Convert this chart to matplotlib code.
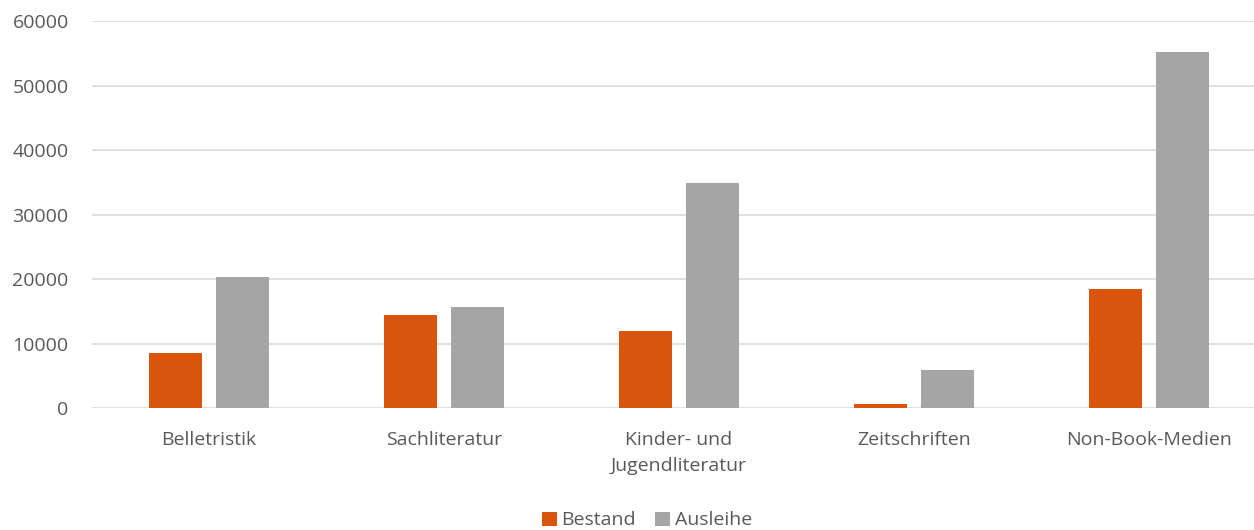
import matplotlib
matplotlib.use("Agg")
import matplotlib.pyplot as plt
import numpy as np

categories = ["Belletristik", "Sachliteratur", "Kinder- und\nJugendliteratur", "Zeitschriften", "Non-Book-Medien"]
bestand = [8500, 14500, 12000, 700, 18500]
ausleihe = [20400, 15650, 34950, 5950, 55150]
series_names = ["Bestand", "Ausleihe"]

plt.rcParams['font.family'] = ['Open Sans', 'DejaVu Sans']
text_col = "#595959"

fig = plt.figure(figsize=(12.54, 5.30), dpi=100)
ax = fig.add_axes([0.0730, 0.2296, 0.9366, 0.7308])

x = np.arange(len(categories))
wid = 0.2255
off = 0.1426
ax.bar(x - off, bestand, width=wid, color="#D9550B", label=series_names[0], zorder=3)
ax.bar(x + off, ausleihe, width=wid, color="#A5A5A5", label=series_names[1], zorder=3)

ax.set_xlim(-0.5, len(categories) - 0.5)
ax.set_ylim(0, 60000)
ax.set_yticks(range(0, 60001, 10000))
ax.yaxis.grid(True, color="#D9D9D9", linewidth=1.2, zorder=0)
ax.set_xticks(x)
ax.set_xticklabels(categories, linespacing=1.6)
ax.tick_params(axis="both", length=0, labelsize=14, colors=text_col)
ax.tick_params(axis="x", pad=16)
ax.tick_params(axis="y", pad=16.5)
for lab in ax.get_yticklabels():
    lab.set_horizontalalignment("right")
for s in ax.spines.values():
    s.set_visible(False)

fig.legend(loc="center", bbox_to_anchor=(0.516, 0.018), ncol=2, frameon=False,
           fontsize=14, labelcolor=text_col, handlelength=0.75, handleheight=0.75,
           handletextpad=0.25, columnspacing=1.0)

fig.savefig("out.png", dpi=100)
